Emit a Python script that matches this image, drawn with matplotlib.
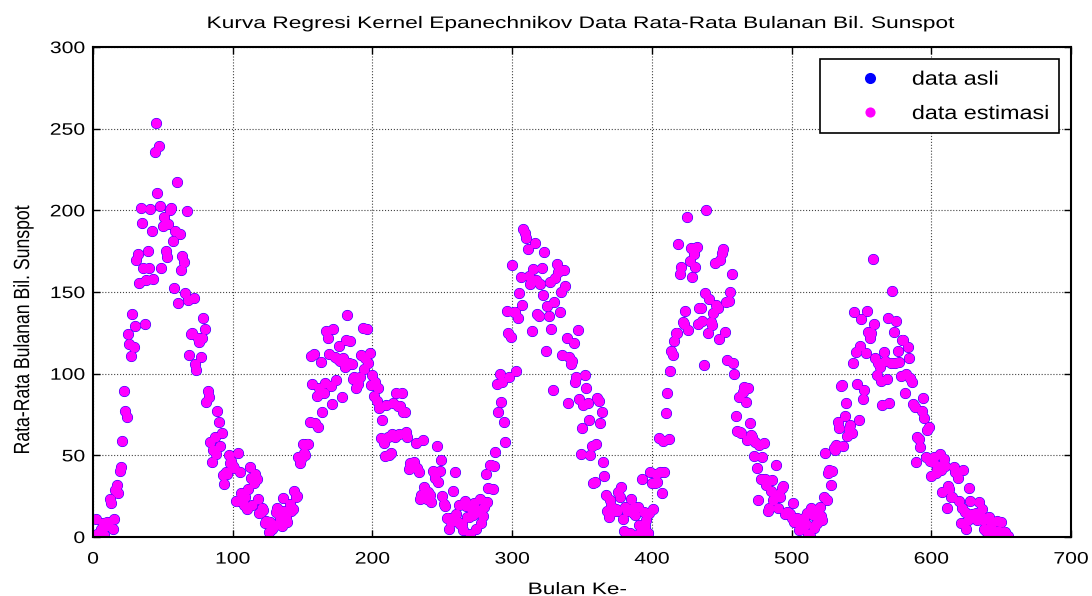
import matplotlib
matplotlib.use("Agg")
import matplotlib.pyplot as plt
import numpy as np
from matplotlib.patches import Rectangle
from matplotlib.patheffects import AbstractPathEffect
from matplotlib.transforms import Affine2D

# monthly mean sunspot numbers (one row per year, Jan..Dec)
sunspot = [
    0.2, 0.5, 10.9, 1.8, 0.8, 0.2, 4.8, 8.4, 1.5, 7.0, 9.2, 7.6,
    23.1, 20.8, 4.9, 11.3, 28.9, 31.7, 26.7, 40.7, 42.7, 58.5, 89.2, 76.9,
    73.6, 124.0, 118.4, 110.7, 136.6, 116.6, 129.1, 169.6, 173.2, 155.3, 201.3, 192.1,
    165.0, 130.2, 157.4, 175.2, 164.6, 200.7, 187.2, 158.0, 235.8, 253.8, 210.9, 239.4,
    202.5, 164.9, 190.7, 196.0, 175.3, 171.5, 191.4, 200.2, 201.2, 181.5, 152.3, 187.6,
    217.4, 143.1, 185.7, 163.3, 172.0, 168.7, 149.6, 199.6, 145.2, 111.4, 124.0, 125.0,
    146.3, 106.0, 102.2, 122.0, 119.6, 110.2, 121.7, 134.1, 127.2, 82.8, 89.6, 85.6,
    57.9, 46.1, 53.0, 61.4, 51.0, 77.4, 70.2, 55.9, 63.6, 37.7, 32.6, 40.0,
    38.7, 50.3, 45.6, 46.4, 43.7, 42.0, 21.8, 21.8, 51.3, 39.5, 26.9, 23.2,
    19.8, 24.4, 17.1, 29.3, 43.0, 35.9, 19.6, 33.2, 38.8, 35.3, 23.4, 14.9,
    15.3, 17.7, 16.5, 8.6, 9.5, 9.1, 3.1, 9.3, 4.7, 6.1, 7.4, 15.1,
    17.5, 14.2, 11.7, 6.8, 24.1, 15.9, 11.9, 8.9, 16.8, 20.1, 15.8, 17.0,
    28.2, 24.4, 25.3, 48.7, 45.3, 47.7, 56.7, 51.2, 50.2, 57.2, 57.2, 70.4,
    110.9, 93.6, 111.8, 69.5, 86.5, 67.3, 91.5, 107.2, 76.8, 88.2, 94.3, 126.4,
    121.8, 111.9, 92.2, 81.2, 127.2, 110.3, 96.1, 109.3, 117.2, 107.7, 86.0, 109.8,
    104.4, 120.5, 135.8, 106.8, 120.0, 106.0, 96.8, 98.0, 91.3, 95.7, 93.5, 97.9,
    111.5, 127.8, 102.9, 109.5, 127.5, 106.8, 112.5, 93.0, 99.5, 86.6, 95.2, 83.5,
    91.3, 79.0, 60.7, 71.8, 57.5, 49.8, 81.0, 61.4, 50.2, 51.7, 63.2, 82.2,
    61.5, 88.4, 80.1, 63.2, 80.5, 88.0, 76.5, 76.8, 64.0, 61.3, 41.6, 45.3,
    43.4, 42.9, 46.0, 57.7, 42.4, 39.5, 23.1, 25.6, 59.3, 30.7, 23.9, 23.3,
    27.6, 26.0, 21.3, 40.3, 39.5, 36.0, 55.8, 33.6, 40.2, 47.1, 25.0, 20.5,
    18.9, 11.5, 11.5, 5.1, 9.0, 11.4, 28.2, 39.7, 13.9, 9.1, 19.4, 7.8,
    8.1, 4.3, 21.9, 18.8, 12.4, 12.2, 1.9, 16.4, 13.5, 20.6, 5.2, 15.3,
    16.4, 23.1, 8.7, 12.9, 18.6, 38.5, 21.4, 30.1, 44.0, 43.8, 29.1, 43.2,
    51.9, 93.6, 76.5, 99.7, 82.7, 95.1, 70.4, 58.1, 138.2, 125.1, 97.9, 122.7,
    166.6, 137.5, 138.0, 101.5, 134.4, 149.5, 159.4, 142.2, 188.4, 186.2, 183.3, 176.3,
    159.6, 155.0, 126.2, 164.1, 179.9, 157.3, 136.3, 135.4, 155.0, 164.7, 147.9, 174.4,
    114.0, 141.3, 135.5, 156.4, 127.5, 90.0, 143.8, 158.7, 167.3, 162.4, 137.5, 150.1,
    111.2, 163.6, 153.8, 122.0, 82.2, 110.4, 106.1, 107.6, 118.8, 94.7, 98.1, 127.0,
    84.3, 51.0, 66.5, 80.7, 99.2, 91.1, 82.2, 71.8, 50.3, 55.8, 33.3, 33.4,
    57.0, 85.1, 83.5, 69.7, 76.4, 46.1, 37.4, 25.5, 15.7, 12.0, 22.8, 18.7,
    16.5, 15.9, 17.2, 16.2, 27.5, 24.2, 30.7, 11.1, 3.9, 18.6, 16.2, 17.3,
    2.5, 23.2, 15.1, 18.5, 13.7, 1.1, 18.1, 7.4, 3.8, 35.4, 15.2, 6.8,
    10.4, 2.4, 14.7, 39.6, 33.0, 17.4, 33.0, 38.7, 33.9, 60.6, 39.9, 27.1,
    59.0, 40.0, 76.2, 88.0, 60.1, 101.8, 113.8, 111.6, 120.1, 125.1, 125.1, 179.2,
    161.3, 165.1, 131.4, 130.6, 138.5, 196.2, 126.9, 168.9, 176.7, 159.4, 173.0, 165.5,
    177.3, 130.5, 140.3, 140.3, 132.2, 105.4, 149.4, 200.3, 125.2, 145.5, 131.4, 129.7,
    136.9, 167.5, 141.9, 140.0, 121.3, 169.7, 173.7, 176.3, 125.3, 144.1, 108.2, 144.4,
    150.0, 161.1, 106.7, 99.8, 73.8, 65.2, 85.7, 64.5, 63.9, 88.7, 91.8, 82.6,
    59.3, 91.0, 69.8, 62.2, 61.3, 49.8, 57.9, 42.2, 22.4, 56.4, 35.6, 48.9,
    57.8, 35.5, 31.7, 16.1, 17.8, 28.0, 35.1, 22.5, 25.7, 44.0, 18.0, 26.2,
    24.2, 29.9, 31.1, 14.0, 14.5, 15.6, 14.5, 14.3, 11.8, 21.1, 9.0, 10.0,
    11.5, 4.4, 9.2, 4.8, 5.5, 11.8, 8.2, 14.4, 1.6, 0.9, 17.9, 13.3,
    5.7, 7.6, 8.7, 15.5, 18.5, 12.7, 10.4, 24.4, 51.3, 22.8, 39.0, 41.2,
    31.9, 40.3, 54.8, 53.4, 56.3, 70.7, 66.6, 92.2, 92.9, 55.5, 74.0, 81.9,
    62.0, 66.3, 68.8, 63.7, 106.4, 137.7, 113.5, 93.7, 71.5, 116.7, 133.2, 84.6,
    90.1, 112.9, 138.5, 125.5, 121.6, 124.9, 170.1, 130.5, 109.7, 99.4, 106.8, 104.4,
    95.6, 80.6, 113.5, 107.7, 96.6, 134.0, 81.8, 106.4, 150.7, 125.5, 106.5, 132.2,
    114.1, 107.4, 98.4, 120.7, 120.8, 88.3, 99.6, 116.4, 109.6, 97.5, 95.0, 81.6,
    79.5, 46.2, 61.5, 60.0, 55.2, 77.4, 85.0, 72.7, 48.7, 65.5, 67.3, 46.5,
    37.3, 45.8, 49.1, 39.3, 41.5, 43.2, 51.1, 40.9, 27.7, 48.0, 43.5, 17.9,
    31.3, 29.2, 24.5, 24.4, 42.6, 39.6, 39.9, 36.4, 22.1, 8.5, 18.0, 41.2,
    15.3, 4.9, 10.6, 30.2, 22.3, 13.9, 12.2, 12.9, 14.4, 10.4, 21.5, 13.6,
    16.9, 10.6, 4.8, 3.7, 11.7, 12.0, 10.0, 6.2, 2.4, 0.9, 1.7, 10.1,
    3.4, 2.1, 9.3, 2.9, 2.9, 3.1, 0.5, 0.5,
]

x_ticks = [0, 100, 200, 300, 400, 500, 600, 700]
y_ticks = [0, 50, 100, 150, 200, 250, 300]


class Stretch(AbstractPathEffect):
    # the original export has wide, stretched-looking glyphs
    def __init__(self, sx=1.0, sy=1.0, anchor='left'):
        super().__init__()
        self.sx, self.sy, self.anchor = sx, sy, anchor

    def draw_path(self, renderer, gc, tpath, affine, rgbFace=None):
        ext = tpath.get_extents()
        x0 = {'left': ext.x0, 'center': (ext.x0 + ext.x1) / 2, 'right': ext.x1}[self.anchor]
        t = Affine2D().translate(-x0, 0).scale(self.sx, self.sy).translate(x0, 0)
        renderer.draw_path(gc, tpath, t + affine, rgbFace)


y = np.array(sunspot)
bulan = np.arange(len(y))

plt.rcParams['font.family'] = ['Liberation Sans', 'DejaVu Sans']

fig = plt.figure(figsize=(10.92, 5.96), dpi=100)
ax = fig.add_axes([0.0852, 0.099, 0.8956, 0.822])

ax.plot(bulan, y, 'o', color='#0000ff', ms=8.0, mew=0, label='data asli')
ax.plot(bulan, y, 'o', color='#ff00ff', ms=7.3, mew=0, label='data estimasi')

ax.set_xlim(0, 700)
ax.set_ylim(0, 300)
ax.set_xticks(x_ticks)
ax.set_yticks(y_ticks)
ax.tick_params(direction='in', top=True, right=True, length=5, width=1, labelsize=12)
ax.tick_params(axis='x', pad=10.5)
ax.tick_params(axis='y', pad=5.8)
ax.grid(True, linestyle=':', color='#444444', linewidth=0.8)
for s in ax.spines.values():
    s.set_linewidth(1.5)

for lab in ax.get_xticklabels():
    lab.set_path_effects([Stretch(1.27, anchor='center')])
for lab in ax.get_yticklabels():
    lab.set_path_effects([Stretch(1.27, anchor='right')])

title = fig.text(207 / 1092, 1 - 28 / 596,
                 'Kurva Regresi Kernel Epanechnikov Data Rata-Rata Bulanan Bil. Sunspot',
                 fontsize=12, ha='left', va='baseline')
title.set_path_effects([Stretch(1.366, anchor='left')])

xl = ax.set_xlabel('Bulan Ke-', fontsize=12)
ax.xaxis.set_label_coords(0.4954, -0.092)
xl.set_path_effects([Stretch(1.357, anchor='center')])

yl = ax.set_ylabel('Rata-Rata Bulanan Bil. Sunspot', fontsize=12.7)
ax.yaxis.set_label_coords(-0.0613, 0.4224)
yl.set_path_effects([Stretch(1.0, 1.25, anchor='center')])

# legend box drawn by hand so it matches the wide text
ax.add_patch(Rectangle((0.7434, 0.8245), 0.2443, 0.151, transform=ax.transAxes,
                       facecolor='white', edgecolor='black', lw=1.2, zorder=4))
leg = ax.legend(loc='upper left', bbox_to_anchor=(0.7746, 0.951), fontsize=14,
                frameon=False, borderpad=0, borderaxespad=0, handlelength=2.0,
                handletextpad=1.16, labelspacing=0.86)
leg.set_zorder(5)
for t in leg.get_texts():
    t.set_path_effects([Stretch(1.2, anchor='left')])

fig.savefig('out.png', dpi=100)
